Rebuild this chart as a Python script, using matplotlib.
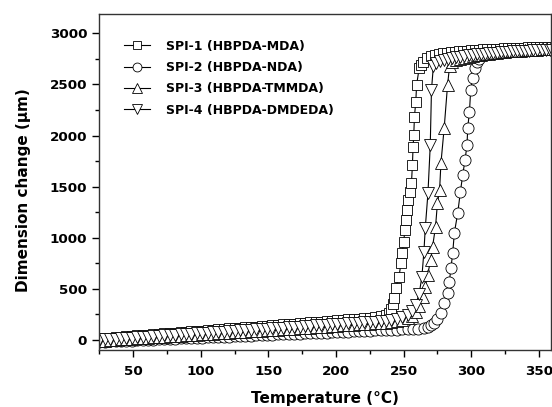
import matplotlib
matplotlib.use('Agg')
import matplotlib.pyplot as plt
from matplotlib.ticker import MultipleLocator

plt.rcParams['font.family'] = ['DejaVu Sans']
plt.rcParams['font.weight'] = 'bold'

# Shared low temperature readings (deg C) for the flat part of every curve
temp_low = [25, 29, 33, 37, 41, 45, 49, 53, 57, 61, 65, 69, 73, 77, 81, 85, 89, 93,
            97, 101, 105, 109, 113, 117, 121, 125, 129, 133, 137, 141, 145, 149, 153,
            157, 161, 165, 169, 173, 177, 181, 185, 189, 193, 197, 201, 205, 209, 213,
            217, 221, 225, 229, 233, 237]

# SPI-1 (HBPDA-MDA)
spi1_low = [15, 18, 22, 27, 30, 34, 39, 42, 47, 50, 55, 58, 63, 66, 71, 74, 79, 82,
            87, 90, 95, 98, 103, 106, 111, 114, 119, 122, 127, 130, 135, 138, 143, 146,
            151, 154, 159, 162, 167, 170, 175, 178, 183, 186, 191, 194, 199, 203, 207,
            212, 217, 223, 231, 243]
spi1_t_rise = [239.5, 241, 242, 243, 244, 246.6, 248, 249, 250, 251, 252, 252.6, 253,
               254.5, 255.8, 256.5, 257, 257.5, 258, 259, 259.6, 261.5, 262.5]
spi1_rise = [262, 300, 350, 405, 503, 617, 750, 849, 960, 1075, 1172, 1270, 1369,
             1450, 1534, 1712, 1891, 2006, 2185, 2332, 2496, 2660, 2690]
spi1_t_top = [264, 267, 270, 273, 276, 279, 282, 285, 288, 291, 294, 297, 300, 303,
              306, 309, 312, 315, 318, 321, 324, 327, 330, 333, 336, 339, 342, 345,
              348, 351, 354, 357, 360]
spi1_top = [2720, 2755, 2775, 2788, 2797, 2804, 2810, 2815, 2820, 2824, 2828, 2832,
            2835, 2838, 2841, 2843, 2845, 2847, 2849, 2851, 2853, 2854, 2856, 2857,
            2859, 2860, 2862, 2863, 2864, 2866, 2867, 2868, 2870]

# SPI-2 (HBPDA-NDA)
spi2_low = [-20, -18, -16, -13, -11, -9, -7, -5, -3, 0, 2, 4, 6, 8, 10, 13, 15, 17,
            19, 21, 23, 26, 28, 30, 32, 34, 36, 39, 41, 43, 45, 47, 49, 52, 54, 56, 58,
            60, 62, 65, 67, 69, 71, 73, 75, 78, 80, 82, 84, 86, 88, 91, 93, 95]
spi2_t_rise = [241, 245, 249, 253, 257, 261, 265, 268, 270.5, 272.7, 275, 277.6, 280,
               282.5, 283.8, 285, 286.3, 287.5, 290, 292, 293.7, 295.4, 296.9, 297.4,
               298.7, 299.6, 301, 302.6, 304.5, 306]
spi2_rise = [97, 99, 101, 103, 105, 108, 114, 128, 143, 163, 205, 261, 359, 457, 568,
             702, 849, 1045, 1240, 1451, 1614, 1761, 1908, 2075, 2234, 2447, 2560,
             2660, 2720, 2745]

# SPI-3 (HBPDA-TMMDA)
spi3_low = [-10, -7, -4, 0, 3, 6, 10, 13, 16, 20, 23, 26, 30, 33, 36, 40, 43, 46, 50,
            53, 56, 60, 63, 66, 70, 73, 76, 80, 83, 86, 90, 93, 96, 100, 103, 106, 110,
            113, 116, 120, 123, 126, 130, 133, 136, 140, 143, 146, 150, 153, 156, 160,
            163, 167]
spi3_t_rise = [241, 245, 249, 253, 256, 259, 261.5, 264, 266, 267.7, 270, 271.4,
               273.6, 275, 276.6, 277.6, 280, 282.5, 284, 286]
spi3_rise = [172, 180, 192, 210, 235, 275, 330, 420, 520, 633, 780, 911, 1107, 1337,
             1466, 1730, 2075, 2496, 2680, 2720]
spi3_t_top = [289, 292, 295, 298, 301, 304, 307, 310, 313, 316, 319, 322, 325, 328,
              331, 334, 337, 340, 343, 346, 349, 352, 355, 358, 360]
spi3_top = [2740, 2752, 2762, 2771, 2779, 2786, 2792, 2798, 2803, 2808, 2812, 2816,
            2820, 2823, 2826, 2829, 2832, 2835, 2837, 2840, 2842, 2844, 2846, 2848, 2850]

# SPI-4 (HBPDA-DMDEDA)
spi4_low = [0, 3, 7, 10, 14, 17, 21, 24, 28, 31, 35, 38, 42, 45, 49, 52, 56, 59, 63,
            66, 70, 73, 77, 80, 84, 87, 91, 94, 98, 101, 105, 108, 112, 115, 119, 122,
            126, 129, 133, 136, 140, 143, 147, 150, 154, 157, 161, 164, 168, 171, 175,
            178, 182, 186]
spi4_t_rise = [241, 245, 249, 253, 256, 259, 261.5, 263.5, 265, 266, 268, 269.7, 270.6,
               272, 274]
spi4_rise = [195, 205, 220, 245, 285, 345, 450, 617, 862, 1093, 1437, 1908, 2447,
             2680, 2710]
spi4_t_top = [277, 280, 283, 286, 289, 292, 295, 298, 301, 304, 307, 310, 313, 316,
              319, 322, 325, 328, 331, 334, 337, 340, 343, 346, 349, 352, 355, 358, 360]
spi4_top = [2725, 2738, 2748, 2757, 2765, 2772, 2778, 2784, 2789, 2794, 2798, 2802,
            2806, 2809, 2812, 2815, 2818, 2820, 2823, 2825, 2827, 2829, 2831, 2833,
            2835, 2836, 2838, 2839, 2840]

labels = ['SPI-1 (HBPDA-MDA)', 'SPI-2 (HBPDA-NDA)',
          'SPI-3 (HBPDA-TMMDA)', 'SPI-4 (HBPDA-DMDEDA)']

series = [
    (temp_low + spi1_t_rise + spi1_t_top, spi1_low + spi1_rise + spi1_top, 's', 7),
    (temp_low + spi2_t_rise, spi2_low + spi2_rise, 'o', 8),
    (temp_low + spi3_t_rise + spi3_t_top, spi3_low + spi3_rise + spi3_top, '^', 9),
    (temp_low + spi4_t_rise + spi4_t_top, spi4_low + spi4_rise + spi4_top, 'v', 9),
]

fig = plt.figure(figsize=(5.52, 4.07), dpi=100)
ax = fig.add_axes([99 / 552, 57 / 407, 452 / 552, 336 / 407])

for (t, v, mk, ms), lab in zip(series, labels):
    ax.plot(t, v, color='black', lw=0.8, marker=mk, markersize=ms,
            markerfacecolor='white', markeredgecolor='black', markeredgewidth=0.6,
            label=lab)

ax.set_xlim(24.7, 359)
ax.set_ylim(-100, 3190)

ax.xaxis.set_major_locator(MultipleLocator(50))
ax.xaxis.set_minor_locator(MultipleLocator(25))
ax.yaxis.set_major_locator(MultipleLocator(500))
ax.yaxis.set_minor_locator(MultipleLocator(250))
ax.tick_params(which='major', direction='out', length=5, width=1, labelsize=9.7)
ax.tick_params(which='minor', direction='out', length=3, width=1)
ax.tick_params(axis='x', pad=6)
for lbl in ax.get_xticklabels() + ax.get_yticklabels():
    lbl.set_fontweight('bold')

for sp in ax.spines.values():
    sp.set_linewidth(1)
    sp.set_color('#333333')

ax.set_xlabel('Temperature (°C)', fontsize=11, fontweight='bold', labelpad=9)
ax.set_ylabel('Dimension change (μm)', fontsize=11, fontweight='bold')
ax.yaxis.set_label_coords(-0.15, 0.476)

ax.legend(loc='upper left', bbox_to_anchor=(0.044, 0.938), borderaxespad=0,
          frameon=False, handlelength=2.1, handletextpad=1.3, markerscale=0.8,
          labelspacing=0.66, prop={'weight': 'bold', 'size': 9})

fig.savefig('out.png', dpi=100)
